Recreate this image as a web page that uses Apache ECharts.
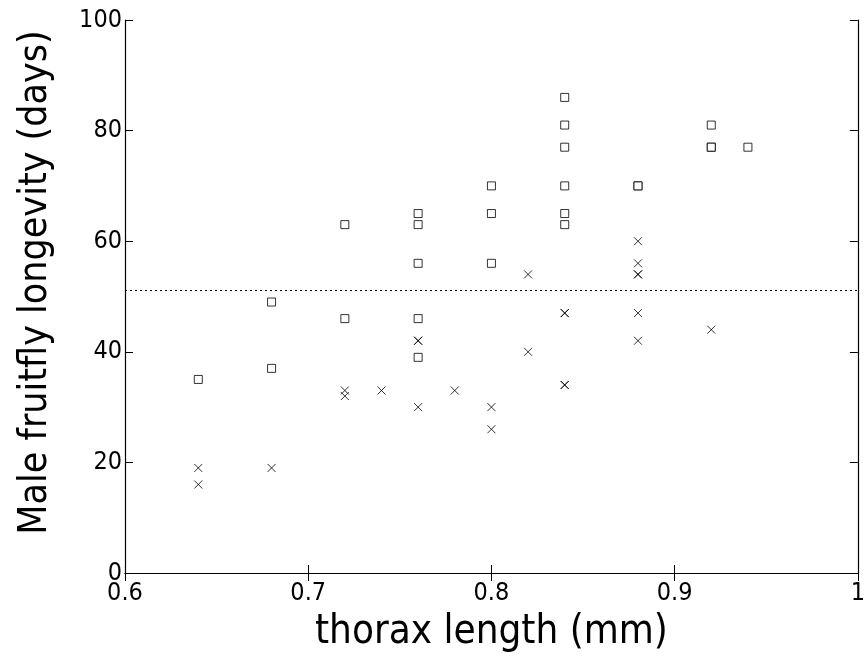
<!DOCTYPE html>
<html><head><meta charset="utf-8">
<script src="https://cdn.jsdelivr.net/npm/echarts@6/dist/echarts.min.js"></script>
<style>html,body{margin:0;padding:0;background:#fff}#c{width:868px;height:660px}</style>
</head><body><div id="c"></div>
<script>
// Squares: isolated males
const isolatedThorax = [0.64,0.68,0.68,0.72,0.72,0.76,0.76,0.76,0.76,0.76,0.80,0.80,0.80,0.84,0.84,0.84,0.84,0.84,0.84,0.88,0.88,0.92,0.92,0.92,0.94];
const isolatedLongevity = [35,37,49,46,63,39,46,56,63,65,56,65,70,63,65,70,77,81,86,70,70,77,77,81,77];
// Crosses: males with 8 virgin females
const virginThorax = [0.64,0.64,0.68,0.72,0.72,0.74,0.76,0.76,0.76,0.78,0.80,0.80,0.82,0.82,0.84,0.84,0.84,0.84,0.88,0.88,0.88,0.88,0.88,0.88,0.92];
const virginLongevity = [16,19,19,32,33,33,30,42,42,33,26,30,40,54,34,34,47,47,42,47,54,54,56,60,44];
const meanLongevity = 51.04;
const xTicks = [0.6,0.7,0.8,0.9,1.0];
const yTicks = [0,20,40,60,80,100];

const FONT = "'DejaVu Sans Condensed','Liberation Sans Narrow','DejaVu Sans',sans-serif";
const chart = echarts.init(document.getElementById('c'), null, {renderer:'canvas'});
const squares = isolatedThorax.map((x,i)=>[x, isolatedLongevity[i]]);
const crosses = virginThorax.map((x,i)=>[x, virginLongevity[i]]);

const axLine = {show:true, lineStyle:{color:'#000', width:1.2}};
const tick = {show:true, inside:true, length:8, lineStyle:{color:'#000', width:1}};
const xMin = xTicks[0], xMax = xTicks[xTicks.length-1], xInt = +(xTicks[1]-xTicks[0]).toFixed(2);
const yMin = yTicks[0], yMax = yTicks[yTicks.length-1], yInt = yTicks[1]-yTicks[0];

chart.setOption({
  animation:false,
  backgroundColor:'#fff',
  grid:{left:125, right:6, top:20, bottom:87, containLabel:false},
  xAxis:[{
    type:'value', min:xMin, max:xMax, interval:xInt, position:'bottom',
    name:'thorax length (mm)', nameLocation:'middle', nameGap:40,
    nameTextStyle:{fontFamily:FONT, fontSize:40, color:'#000', verticalAlign:'top'},
    axisLine:axLine, axisTick:tick, splitLine:{show:false},
    axisLabel:{fontFamily:FONT, fontSize:25, color:'#000', margin:8,
      formatter:v=> Math.abs(v-1)<1e-9 ? '1' : v.toFixed(1)}
  },{
    type:'value', min:xMin, max:xMax, interval:xInt, position:'top',
    axisLine:axLine, axisTick:tick, axisLabel:{show:false}, splitLine:{show:false}
  }],
  yAxis:[{
    type:'value', min:yMin, max:yMax, interval:yInt, position:'left',
    name:'Male fruitfly longevity (days)', nameLocation:'middle', nameGap:70,
    nameTextStyle:{fontFamily:FONT, fontSize:39, color:'#000', padding:[0,0,0,28]},
    axisLine:axLine, axisTick:tick, splitLine:{show:false},
    axisLabel:{fontFamily:FONT, fontSize:25, color:'#000', margin:3}
  },{
    type:'value', min:yMin, max:yMax, interval:yInt, position:'right',
    axisLine:axLine, axisTick:tick, axisLabel:{show:false}, splitLine:{show:false}
  }],
  series:[{
    type:'scatter', data:squares, symbol:'rect', symbolSize:8,
    itemStyle:{color:'#fff', borderColor:'#000', borderWidth:1},
    emphasis:{disabled:true},
    markLine:{silent:true, symbol:['none','none'], label:{show:false},
      lineStyle:{color:'#000', type:[2,3], width:1},
      data:[{yAxis:meanLongevity}]}
  },{
    type:'scatter', data:crosses, symbol:'path://M0,0L10,10M0,10L10,0', symbolSize:8,
    itemStyle:{color:'none', borderColor:'#000', borderWidth:1},
    emphasis:{disabled:true}
  }]
});
</script></body></html>
